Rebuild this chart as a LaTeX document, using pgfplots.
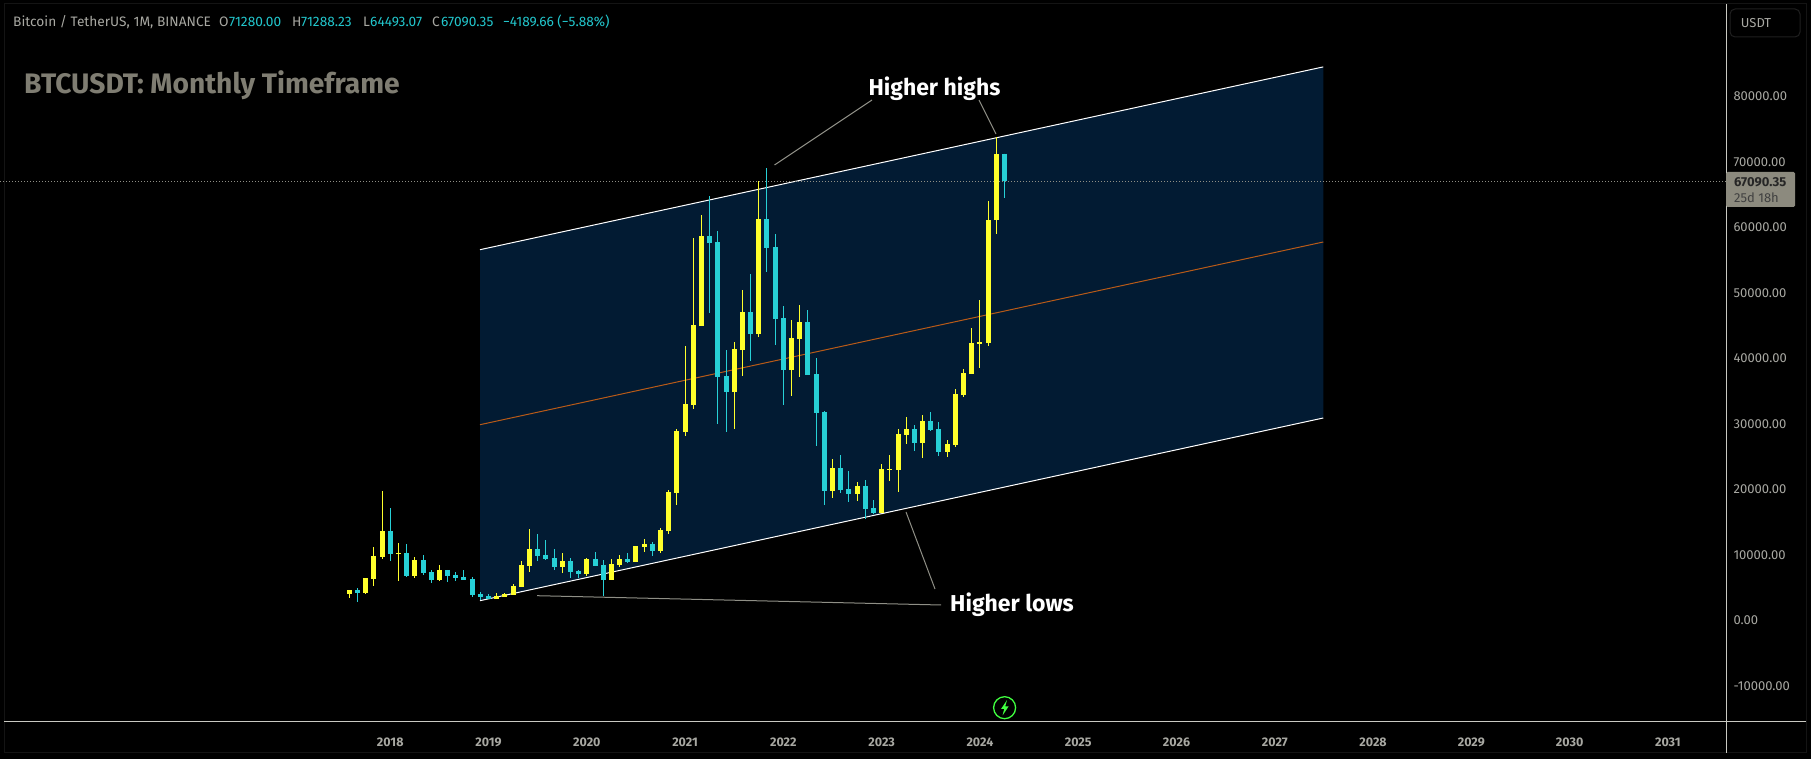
\documentclass[border=0pt]{standalone}
\usepackage{fontspec}
\setmainfont{Fira Sans}
\usepackage{pgfplots}
\usepackage{pgfplotstable}
\pgfplotsset{compat=1.18}
\definecolor{yel}{HTML}{FFFF2B}
\definecolor{tea}{HTML}{27D0D6}
\definecolor{chan}{HTML}{021B33}
\definecolor{mid}{HTML}{B85A18}
\definecolor{lab}{HTML}{A8A8A2}
\definecolor{ttl}{HTML}{7F7D72}
\definecolor{ann}{HTML}{8F8F86}
\definecolor{lin}{HTML}{C9C9C2}
\definecolor{val}{HTML}{22C6CC}
\definecolor{tag}{HTML}{8C8A7E}
\pgfplotstableread{
x o h l c
0 4046 4657 3435 4657
2 4198 6488 4046 6488
3 6336 11170 5267 9847
4 9695 19771 9389 13664
6 10153 11832 6031 10305
8 6794 9644 6488 9237
11 6183 8473 6031 7710
18 3282 4198 3282 3741
19 3588 4198 3588 3995
20 3893 5573 3893 5267
21 5115 9084 5115 8473
22 8321 13970 7404 10916
26 8168 10305 7252 9084
29 7099 9542 6794 9389
32 6183 9389 6183 8626
33 8473 10000 8168 9389
35 8931 11374 8931 11374
36 11221 12443 10458 11679
38 10611 14122 10305 13817
39 13664 19924 13206 19618
40 19466 29235 17634 28930
41 28777 41907 28166 33051
42 32900 58395 32289 45113
43 44960 61907 44960 58700
47 34884 42517 29235 41449
48 41296 50456 37326 47098
50 43739 67097 43281 61296
54 38243 45876 34274 43128
55 42975 48166 37174 45571
59 19771 24656 18702 23282
62 19313 21145 18244 20534
65 16412 23893 16412 23130
66 22977 25267 21297 23130
67 22977 29237 19618 28473
68 28321 31069 26946 29237
70 27099 31374 24809 30458
73 25725 27557 24962 26946
74 26793 35343 26488 34580
75 34427 38397 34122 37786
76 37633 44656 37633 42366
77 42213 48930 38550 42519
78 42366 64045 41908 61144
79 61130 73777 59005 71280
}\tblY
\pgfplotstableread{
x o h l c
1 4657 4962 2824 4198
5 13664 17176 9084 10153
7 10305 11679 6641 6794
9 9237 10000 6947 7252
10 7404 7710 5725 6183
12 7710 7710 5878 6794
13 6947 7404 6031 6488
14 6641 7710 6183 6183
15 6336 6641 3588 3893
16 4046 4351 3130 3588
17 3741 4046 3282 3282
23 10916 13206 9084 9847
24 10000 12290 9237 9389
25 9542 10916 7710 8168
27 9084 9542 6488 7404
28 7557 7710 6488 7099
30 9389 10458 8321 8321
31 8473 9237 3741 6183
34 9389 10305 8779 8931
37 11679 11985 9847 10611
44 58700 64807 46945 57632
45 57784 59464 30000 37174
46 37326 41296 28777 34884
49 47098 52899 39616 43739
51 61296 69082 53205 56869
52 57021 59006 42059 46028
53 46182 48013 32900 38243
56 45571 47403 37479 37479
57 37632 40074 26639 31679
58 31831 31984 17634 19771
60 23282 25267 19466 19923
61 20076 22824 18092 19313
63 20534 21449 15496 17023
64 17175 18397 16260 16412
69 29237 29847 25878 27099
71 30458 31832 28932 29084
72 29237 30305 25114 25725
80 71280 71288 64493 67090
}\tblT
\begin{document}
\begin{tikzpicture}
\fill[black] (0pt,0pt) rectangle (1811pt,759pt);
\begin{axis}[
  at={(0pt,37pt)}, anchor=south west, scale only axis,
  width=1726pt, height=722pt,
  xmin=-42.65, xmax=168.10, ymin=-15496, ymax=94732,
  axis line style={draw=none},
  major tick length=0pt,
  axis y line*=right,
  axis x line*=bottom,
  scaled y ticks=false,
  xtick={5,17,29,41,53,65,77,89,101,113,125,137,149,161},
  xticklabels={2018,2019,2020,2021,2022,2023,2024,2025,2026,2027,2028,2029,2030,2031},
  xticklabel style={text=lab, font=\fontsize{12.5}{14}\selectfont\bfseries, yshift=-12pt},
  ytick={-10000,0,10000,20000,30000,40000,50000,60000,70000,80000},
  yticklabel style={text=lab, font=\fontsize{13}{15}\selectfont, anchor=west, xshift=4pt,
    /pgf/number format/fixed, /pgf/number format/fixed zerofill, /pgf/number format/precision=2,
    /pgf/number format/1000 sep={}, /pgf/number format/assume math mode=true},
]
% channel
\addplot[fill=chan, draw=none] coordinates {(15.96,3023) (118.92,30916) (118.92,84517) (15.96,56610)} -- cycle;
\addplot[white, line width=1pt] coordinates {(15.96,56610) (118.92,84517)};
\addplot[white, line width=1pt] coordinates {(15.96,3023) (118.92,30916)};
\addplot[mid, line width=1pt] coordinates {(15.96,29892) (118.92,57786)};
% last price line
\addplot[ann, line width=1pt, dash pattern=on 1pt off 2pt] coordinates {(-42.65,67090) (168.10,67090)};
% wicks
\addplot[draw=none, mark=none, error bars/.cd, y dir=both, y explicit, error mark=none,
  error bar style={line width=1pt, color=yel}]
  table[x=x, y=o, y error plus expr=\thisrow{h}-\thisrow{o}, y error minus expr=\thisrow{o}-\thisrow{l}] {\tblY};
\addplot[draw=none, mark=none, error bars/.cd, y dir=both, y explicit, error mark=none,
  error bar style={line width=1pt, color=tea}]
  table[x=x, y=o, y error plus expr=\thisrow{h}-\thisrow{o}, y error minus expr=\thisrow{o}-\thisrow{l}] {\tblT};
% bodies
\addplot[draw=none, mark=none, error bars/.cd, y dir=plus, y explicit, error mark=none,
  error bar style={line width=5pt, color=yel}]
  table[x=x, y=o, y error plus expr=\thisrow{c}-\thisrow{o}] {\tblY};
\addplot[draw=none, mark=none, error bars/.cd, y dir=minus, y explicit, error mark=none,
  error bar style={line width=5pt, color=tea}]
  table[x=x, y=o, y error minus expr=\thisrow{o}-\thisrow{c}] {\tblT};
\end{axis}
\begin{scope}[x=1pt, y=-1pt, shift={(0pt,759pt)}]
% frame and scales
\draw[color=black!92!white, line width=1pt] (4,4) rectangle (1806,753);
\draw[lin, line width=1pt] (4,722) -- (1806,722);
\draw[lin, line width=1pt] (1726,4) -- (1726,753);
% header
\node[anchor=west, inner sep=0pt, text=lab, font=\fontsize{13.7}{15}\selectfont] at (13,22) {Bitcoin / TetherUS, 1M, BINANCE};
\node[anchor=west, inner sep=0pt, text=lab, font=\fontsize{13.7}{15}\selectfont] at (219,22) {O};
\node[anchor=west, inner sep=0pt, text=val, font=\fontsize{13.7}{15}\selectfont] at (229,22) {71280.00};
\node[anchor=west, inner sep=0pt, text=lab, font=\fontsize{13.7}{15}\selectfont] at (292,22) {H};
\node[anchor=west, inner sep=0pt, text=val, font=\fontsize{13.7}{15}\selectfont] at (301,22) {71288.23};
\node[anchor=west, inner sep=0pt, text=lab, font=\fontsize{13.7}{15}\selectfont] at (363,22) {L};
\node[anchor=west, inner sep=0pt, text=val, font=\fontsize{13.7}{15}\selectfont] at (370,22) {64493.07};
\node[anchor=west, inner sep=0pt, text=lab, font=\fontsize{13.7}{15}\selectfont] at (432,22) {C};
\node[anchor=west, inner sep=0pt, text=val, font=\fontsize{13.7}{15}\selectfont] at (441,22) {67090.35};
\node[anchor=west, inner sep=0pt, text=val, font=\fontsize{13.7}{15}\selectfont] at (503,22) {−4189.66 (−5.88\%)};
\node[anchor=west, inner sep=0pt, text=ttl, font=\fontsize{28.2}{32}\selectfont\bfseries] at (24,85.5) {BTCUSDT: Monthly Timeframe};
% annotations
\draw[ann, line width=1pt] (872,100) -- (774.5,165);
\draw[ann, line width=1pt] (979,100) -- (996,134);
\draw[ann, line width=1pt] (906,512) -- (935,589);
\draw[ann, line width=1pt] (537,595.7) -- (941,605);
\node[text=white, font=\fontsize{23}{27}\selectfont\bfseries, inner sep=0pt] at (934.5,88.5) {Higher highs};
\node[text=white, font=\fontsize{23}{27}\selectfont\bfseries, inner sep=0pt] at (1012,605) {Higher lows};
% usdt box and price tag
\draw[color=black!88!white, line width=1pt, rounded corners=5pt] (1730,9) rectangle (1800,37);
\node[text=lab, font=\fontsize{13}{15}\selectfont, inner sep=0pt] at (1756,23) {USDT};
\fill[tag, rounded corners=1.5pt] (1726,172) rectangle (1795,207);
\node[anchor=west, inner sep=0pt, text=black!85, font=\fontsize{13}{15}\selectfont\bfseries] at (1734,182) {67090.35};
\node[anchor=west, inner sep=0pt, text=black!75, font=\fontsize{13}{15}\selectfont] at (1734,198) {25d 18h};
% bolt icon
\draw[color=green!75!white, line width=1.3pt] (1004.6,707.7) circle (11);
\fill[color=green!75!white] (1007,700) -- (1001,709) -- (1004.2,709) -- (1002.5,715.5) -- (1008.5,706.5) -- (1005.2,706.5) -- cycle;
\end{scope}
\end{tikzpicture}
\end{document}
